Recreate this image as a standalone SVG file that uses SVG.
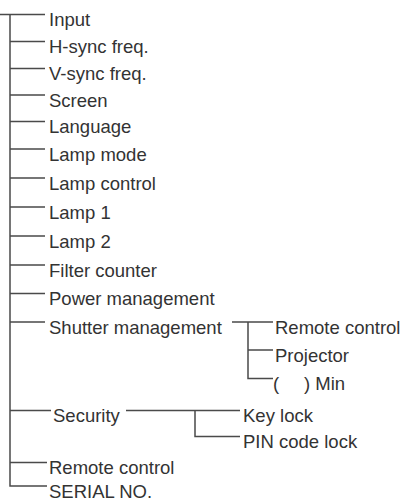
<svg xmlns="http://www.w3.org/2000/svg" width="403" height="502" viewBox="0 0 403 502">
<style>
.t{font-family:"Liberation Sans",Arial,sans-serif;font-size:18.5px;fill:#333}
.c{stroke:#4a4a4a;stroke-width:1.5;fill:none}
</style>
<rect width="403" height="502" fill="#fff"/>
<g id="connectors" class="c">
<path d="M0,14.5H45M10,14.5V486H47"/>
<path d="M10,41.5H45M10,68.5H45M10,95H45M10,121.5H45M10,149H45M10,178H45M10,207H45M10,236H45M10,265H45M10,293.5H45M10,322H45"/>
<path d="M10,410.5H51M10,462.5H47"/>
<path d="M232,322H273M248,322V378.5H273M248,350H273"/>
<path d="M126,410.5H240M195,410.5V436.5H240"/>
</g>
<g id="input"><text class="t" x="49" y="26">Input</text></g>
<g id="hsync"><text class="t" x="49" y="53">H-sync freq.</text></g>
<g id="vsync"><text class="t" x="49" y="80">V-sync freq.</text></g>
<g id="screen"><text class="t" x="49" y="106.5">Screen</text></g>
<g id="language"><text class="t" x="49" y="133">Language</text></g>
<g id="lamp-mode"><text class="t" x="49" y="160.5">Lamp mode</text></g>
<g id="lamp-control"><text class="t" x="49" y="189.5">Lamp control</text></g>
<g id="lamp1"><text class="t" x="49" y="218.5">Lamp 1</text></g>
<g id="lamp2"><text class="t" x="49" y="247.5">Lamp 2</text></g>
<g id="filter-counter"><text class="t" x="49" y="276.5">Filter counter</text></g>
<g id="power-management"><text class="t" x="49" y="305">Power management</text></g>
<g id="shutter-management"><text class="t" x="49" y="333.5">Shutter management</text></g>
<g id="shutter-remote"><text class="t" x="275" y="333.5">Remote control</text></g>
<g id="shutter-projector"><text class="t" x="275" y="361.5">Projector</text></g>
<g id="shutter-min"><text class="t" y="390"><tspan x="273">(</tspan><tspan x="304">) Min</tspan></text></g>
<g id="security"><text class="t" x="53" y="422">Security</text></g>
<g id="key-lock"><text class="t" x="243" y="422">Key lock</text></g>
<g id="pin-code-lock"><text class="t" x="243" y="448">PIN code lock</text></g>
<g id="remote-control"><text class="t" x="49" y="474">Remote control</text></g>
<g id="serial-no"><text class="t" x="49" y="497.5">SERIAL NO.</text></g>
</svg>
